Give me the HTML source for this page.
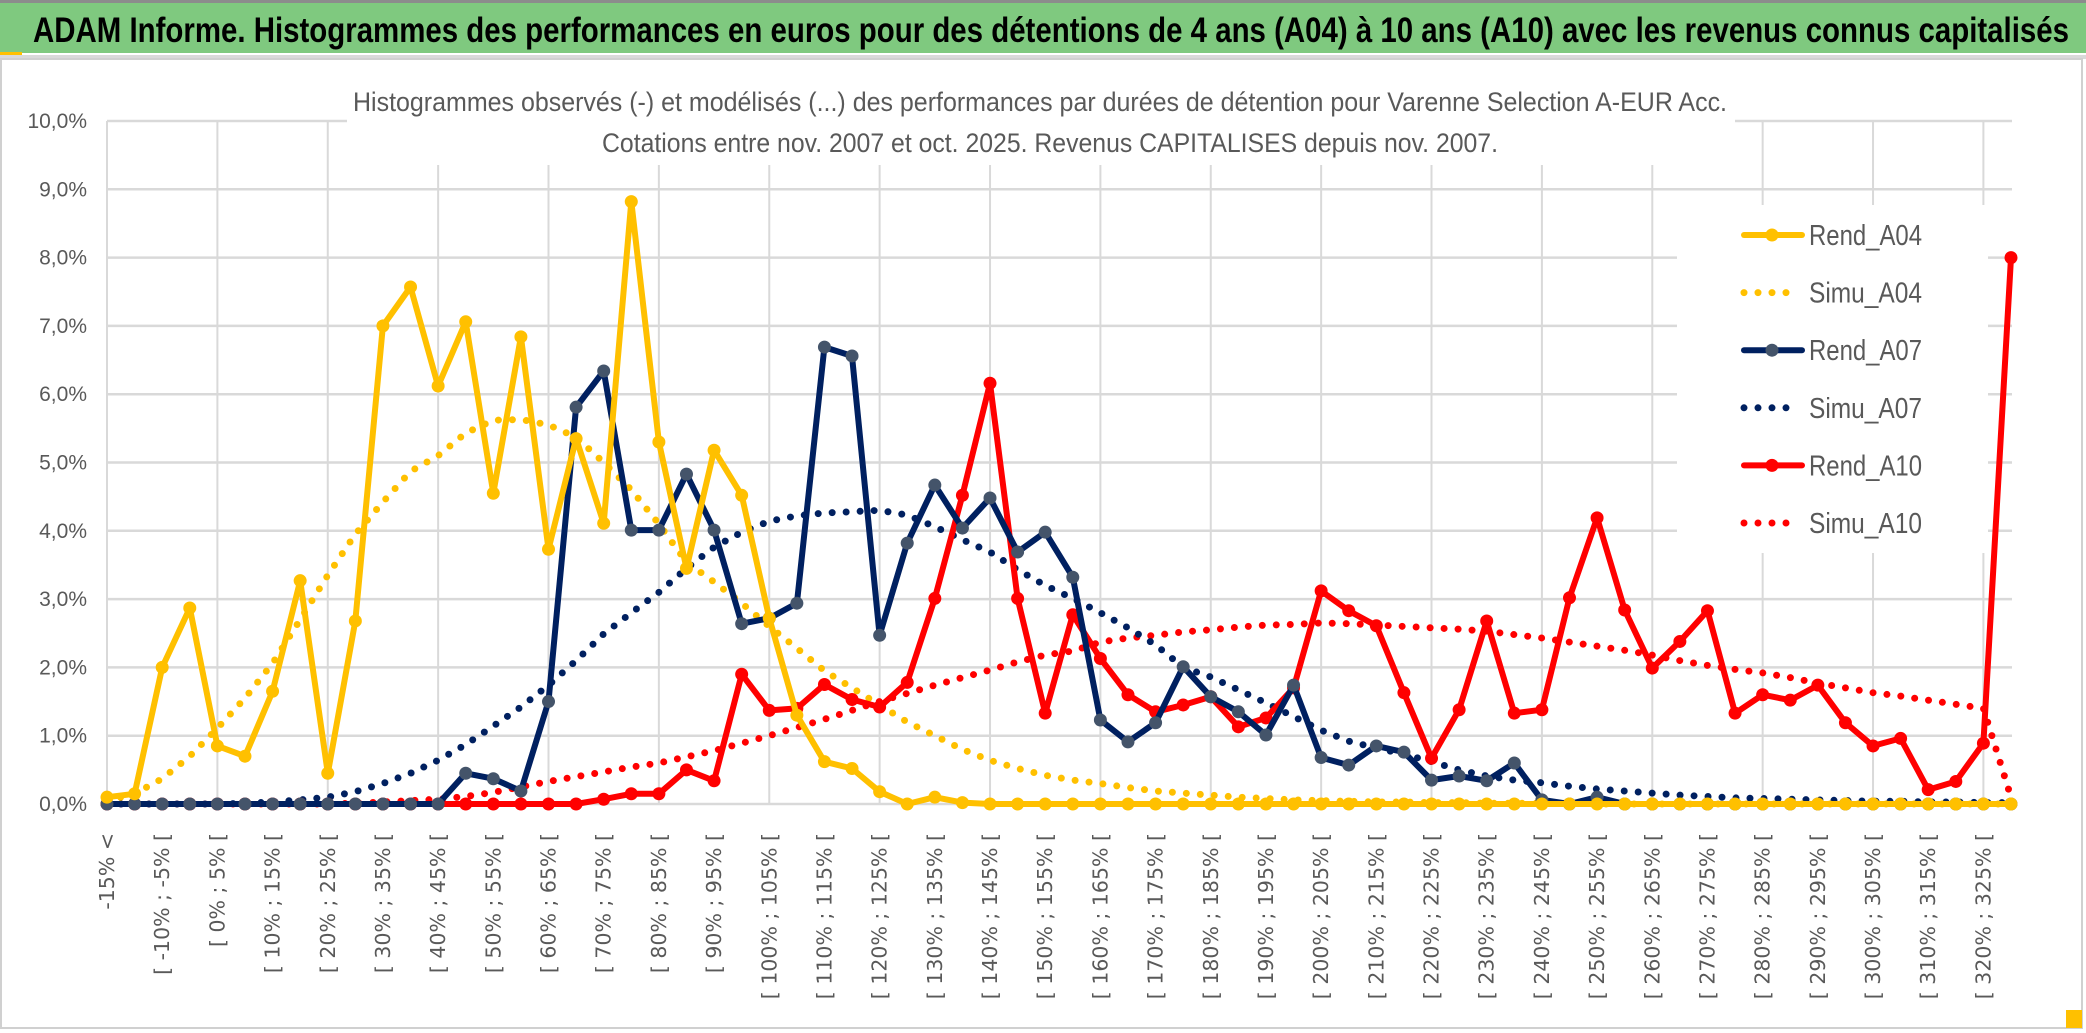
<!DOCTYPE html>
<html><head><meta charset="utf-8"><style>
html,body{margin:0;padding:0;background:#fff;}
svg{display:block;}
.nar{font-family:"Liberation Sans Narrow","Liberation Sans",sans-serif;}
</style></head><body>
<svg id="chart" width="2086" height="1033" viewBox="0 0 2086 1033" xmlns="http://www.w3.org/2000/svg">
<rect x="0" y="0" width="2086" height="1033" fill="#fff"/>
<rect x="0" y="0" width="2086" height="3" fill="#8c8c8c"/>
<rect x="0" y="3" width="2086" height="50" fill="#7fc97f"/>
<rect x="0" y="52" width="22" height="4" fill="#ffc000"/>
<rect x="0" y="55" width="2086" height="4" fill="#d9d9d9"/>
<text x="33" y="42" class="nar" font-size="35" font-weight="bold" fill="#000" textLength="2036" lengthAdjust="spacingAndGlyphs">ADAM Informe. Histogrammes des performances en euros pour des détentions de 4 ans (A04) à 10 ans (A10) avec les revenus connus capitalisés</text>
<rect x="1" y="59" width="2081" height="969" fill="none" stroke="#d0d0d0" stroke-width="2"/>
<g id="grid"></g>
<rect x="347" y="60" width="1388" height="105" fill="#fff"/>
<text x="1040" y="111" class="nar" font-size="27" fill="#595959" text-anchor="middle" textLength="1374" lengthAdjust="spacingAndGlyphs">Histogrammes observés (-) et modélisés (...) des performances par durées de détention pour Varenne Selection A-EUR Acc.</text>
<text x="1050" y="152" class="nar" font-size="27" fill="#595959" text-anchor="middle" textLength="896" lengthAdjust="spacingAndGlyphs">Cotations entre nov. 2007 et oct. 2025. Revenus CAPITALISES depuis nov. 2007.</text>
<g id="yaxis"></g>
<g id="xaxis"></g>
<g id="series"></g>
<rect x="1677" y="205" width="311" height="348" fill="#fff"/>
<g id="legend"></g>
<rect x="2066" y="1010" width="16" height="18" fill="#ffc000"/>
</svg>
<script>
const categoriesCount = 70;
const yTicks = [0,1,2,3,4,5,6,7,8,9,10];
const yTickLabels = ["0,0%","1,0%","2,0%","3,0%","4,0%","5,0%","6,0%","7,0%","8,0%","9,0%","10,0%"];
const rendA04 = [0.1,0.15,2.0,2.87,0.85,0.7,1.65,3.27,0.45,2.68,7.0,7.57,6.12,7.06,4.55,6.84,3.73,5.35,4.11,8.82,5.3,3.45,5.18,4.52,2.72,1.3,0.62,0.52,0.18,0.0,0.1,0.02,0,0,0,0,0,0,0,0,0,0,0,0,0,0,0,0,0,0,0,0,0,0,0,0,0,0,0,0,0,0,0,0,0,0,0,0,0,0];
const simuA04 = [0.05,0.15,0.37,0.7,1.11,1.55,2.06,2.7,3.35,3.95,4.42,4.87,5.1,5.43,5.62,5.63,5.55,5.37,5.0,4.6,4.1,3.54,3.25,2.94,2.6,2.28,1.95,1.7,1.45,1.2,1.0,0.8,0.64,0.52,0.42,0.35,0.3,0.24,0.19,0.16,0.13,0.1,0.08,0.06,0.05,0.04,0.03,0.03,0.02,0.02,0.01,0.01,0.01,0.01,0,0,0,0,0,0,0,0,0,0,0,0,0,0,0,0];
const rendA07 = [0,0,0,0,0,0,0,0,0,0,0,0,0,0.45,0.37,0.19,1.5,5.81,6.34,4.01,4.01,4.83,4.01,2.64,2.72,2.94,6.69,6.56,2.47,3.82,4.67,4.04,4.48,3.69,3.98,3.32,1.23,0.91,1.19,2.01,1.57,1.35,1.01,1.74,0.68,0.57,0.85,0.76,0.35,0.41,0.34,0.6,0.06,0,0.1,0,0,0,0,0,0,0,0,0,0,0,0,0,0,0];
const simuA07 = [0,0,0,0,0,0.01,0.03,0.06,0.1,0.18,0.3,0.45,0.64,0.87,1.14,1.42,1.74,2.1,2.49,2.8,3.1,3.45,3.76,3.98,4.14,4.22,4.26,4.28,4.3,4.23,4.06,3.87,3.69,3.43,3.2,3.01,2.8,2.58,2.33,2.0,1.86,1.67,1.48,1.28,1.08,0.92,0.82,0.73,0.62,0.5,0.41,0.35,0.31,0.26,0.22,0.19,0.16,0.13,0.11,0.09,0.08,0.07,0.06,0.05,0.04,0.04,0.03,0.03,0.02,0.02];
const rendA10 = [0,0,0,0,0,0,0,0,0,0,0,0,0,0,0,0,0,0,0.07,0.15,0.15,0.5,0.34,1.9,1.37,1.4,1.75,1.53,1.42,1.78,3.01,4.52,6.16,3.01,1.33,2.77,2.13,1.6,1.35,1.45,1.57,1.13,1.26,1.7,3.12,2.83,2.61,1.63,0.67,1.38,2.68,1.33,1.38,3.02,4.19,2.84,1.99,2.38,2.83,1.33,1.6,1.52,1.74,1.19,0.85,0.96,0.21,0.33,0.89,8.0];
const simuA10 = [0,0,0,0,0,0,0,0,0,0.01,0.03,0.05,0.07,0.11,0.17,0.25,0.33,0.4,0.47,0.54,0.6,0.69,0.78,0.89,1.0,1.12,1.24,1.37,1.5,1.62,1.74,1.85,1.96,2.08,2.18,2.24,2.37,2.43,2.47,2.52,2.55,2.59,2.62,2.63,2.65,2.64,2.62,2.6,2.58,2.56,2.53,2.48,2.43,2.37,2.31,2.25,2.18,2.1,2.03,1.97,1.92,1.85,1.77,1.7,1.63,1.58,1.52,1.46,1.4,0.1];

const NS = "http://www.w3.org/2000/svg";
const X0 = 107, DX = 1904/69, Y0 = 804, PY = 68.3;
function xPos(i){ return X0 + i*DX; }
function yPos(v){ return Y0 - v*PY; }
function mk(tag, attrs, parent){
  const e = document.createElementNS(NS, tag);
  for (const k in attrs) e.setAttribute(k, attrs[k]);
  parent.appendChild(e);
  return e;
}
function catLabel(i){
  if (i === 0) return "-15% <";
  const lo = -15 + 5*(i-1);
  return "[ " + lo + "% ; " + (lo+5) + "% [";
}

const grid = document.getElementById('grid');
yTicks.forEach(function(t){
  const l = mk('line', {x1:X0, x2:2012, y1:yPos(t), y2:yPos(t), stroke:'#d9d9d9', 'stroke-width':2.5}, grid);
  
  
});
for (let i = 0; i < categoriesCount; i += 4) {
  const l = mk('line', {x1:xPos(i), x2:xPos(i), y1:yPos(10), y2:Y0, stroke:'#d9d9d9', 'stroke-width':2}, grid);
  
  
}

const yaxis = document.getElementById('yaxis');
yTicks.forEach(function(t, k){
  const tx = mk('text', {x:87, y:yPos(t)+7, 'text-anchor':'end', 'font-size':21, fill:'#595959', 'class':'nar'}, yaxis);
  tx.textContent = yTickLabels[k];
  
  
});

const xaxis = document.getElementById('xaxis');
for (let i = 0; i < categoriesCount; i += 2) {
  const x = xPos(i) + 7;
  const tx = mk('text', {x:x, y:833, transform:'rotate(-90 '+x+' 833)', 'text-anchor':'end', 'font-size':20.5, fill:'#595959', 'font-family':'"DejaVu Sans", sans-serif'}, xaxis);
  tx.textContent = catLabel(i);
  
  
}

const seriesG = document.getElementById('series');
function pts(arr){ return arr.map(function(v,i){ return xPos(i).toFixed(1)+','+yPos(v).toFixed(1); }).join(' '); }
function dotted(arr, color, name){
  const p = mk('polyline', {points:pts(arr), fill:'none', stroke:color, 'stroke-width':7, 'stroke-dasharray':'0 14', 'stroke-linecap':'round', 'stroke-linejoin':'round'}, seriesG);
  
  
}
function solid(arr, color, mcolor, name){
  const g = mk('g', {}, seriesG);
  
  
  mk('polyline', {points:pts(arr), fill:'none', stroke:color, 'stroke-width':6, 'stroke-linejoin':'round'}, g);
  arr.forEach(function(v,i){
    const c = mk('circle', {cx:xPos(i), cy:yPos(v), r:6.5, fill:mcolor}, g);
    
    
  });
}
dotted(simuA10, '#ff0000', 'simu-a10-line');
dotted(simuA07, '#002060', 'simu-a07-line');
dotted(simuA04, '#ffc000', 'simu-a04-line');
solid(rendA10, '#ff0000', '#ff0000', 'rend-a10-line');
solid(rendA07, '#002060', '#44546a', 'rend-a07-line');
solid(rendA04, '#ffc000', '#ffc000', 'rend-a04-line');

const legend = document.getElementById('legend');
const legendNames = ["Rend_A04","Simu_A04","Rend_A07","Simu_A07","Rend_A10","Simu_A10"];
const legendColors = ['#ffc000','#ffc000','#002060','#002060','#ff0000','#ff0000'];
const legendMarker = ['#ffc000',null,'#44546a',null,'#ff0000',null];
legendNames.forEach(function(n, k){
  const y = 235 + k*57.6;
  const g = mk('g', {}, legend);
  
  
  if (legendMarker[k]) {
    mk('line', {x1:1744, x2:1802, y1:y, y2:y, stroke:legendColors[k], 'stroke-width':6, 'stroke-linecap':'round'}, g);
    mk('circle', {cx:1772, cy:y, r:6.5, fill:legendMarker[k]}, g);
  } else {
    mk('line', {x1:1744, x2:1800, y1:y, y2:y, stroke:legendColors[k], 'stroke-width':7, 'stroke-dasharray':'0 14', 'stroke-linecap':'round'}, g);
  }
  const t = mk('text', {x:1809, y:y+10, 'font-size':29, fill:'#595959', 'class':'nar', textLength:113, lengthAdjust:'spacingAndGlyphs'}, g);
  t.textContent = n;
});
</script>
</body></html>
